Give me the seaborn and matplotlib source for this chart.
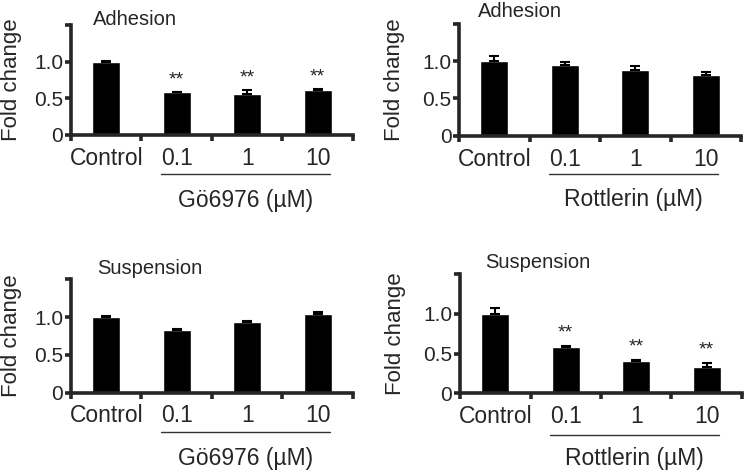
import matplotlib
matplotlib.use("Agg")
import matplotlib.pyplot as plt
import seaborn as sns
import pandas as pd
from matplotlib.transforms import offset_copy
from matplotlib.ticker import FixedLocator

sns.set_style("ticks")
plt.rcParams["font.family"] = ["Liberation Sans", "DejaVu Sans"]

groups = ["Control", "0.1", "1", "10"]

go_adh_mean = [1.0, 0.58, 0.56, 0.61]
go_adh_err = [0.01, 0.01, 0.06, 0.015]
go_adh_sig = ["", "**", "**", "**"]

rot_adh_mean = [1.0, 0.955, 0.885, 0.81]
rot_adh_err = [0.065, 0.035, 0.045, 0.04]
rot_adh_sig = ["", "", "", ""]

go_sus_mean = [1.0, 0.825, 0.935, 1.045]
go_sus_err = [0.01, 0.015, 0.01, 0.02]
go_sus_sig = ["", "", "", ""]

rot_sus_mean = [1.0, 0.58, 0.41, 0.335]
rot_sus_err = [0.07, 0.02, 0.01, 0.045]
rot_sus_sig = ["", "**", "**", "**"]

panels = [
    # rect, title, title pos, drug, means, errs, stars, ylabel x, (line offset, label offset, label va)
    ([0.095, 0.7146, 0.3775, 0.2326], "Adhesion", (0.078, 1.0), "Gö6976 (µM)",
     go_adh_mean, go_adh_err, go_adh_sig, -0.175, (28, 47, "center")),
    ([0.6145, 0.7131, 0.3775, 0.236], "Adhesion", (0.067, 1.06), "Rottlerin (µM)",
     rot_adh_mean, rot_adh_err, rot_adh_sig, -0.19, (27.5, 46, "center")),
    ([0.095, 0.1698, 0.3775, 0.2397], "Suspension", (0.092, 1.045), "Gö6976 (µM)",
     go_sus_mean, go_sus_err, go_sus_sig, -0.175, (28.5, 55.5, "bottom")),
    ([0.6158, 0.1685, 0.3775, 0.2516], "Suspension", (0.088, 1.055), "Rottlerin (µM)",
     rot_sus_mean, rot_sus_err, rot_sus_sig, -0.19, (30, 55.5, "bottom")),
]

fig = plt.figure(figsize=(7.47, 4.73), dpi=100)

for rect, title, tpos, drug, means, errs, sig, ylx, (line_off, lab_off, lab_va) in panels:
    ax = fig.add_axes(rect)
    df = pd.DataFrame({"group": groups, "fold": means})
    sns.barplot(data=df, x="group", y="fold", color="black", width=0.4,
                errorbar=None, ax=ax, saturation=1)
    # error bars only upward
    ax.errorbar(range(len(groups)), means, yerr=[[0] * len(errs), errs],
                fmt="none", ecolor="black", elinewidth=1.5, capsize=3.6,
                capthick=1.5)
    for i, s in enumerate(sig):
        if s:
            ax.text(i, means[i] + errs[i] + 0.16, s, ha="center", va="center",
                    fontsize=14)

    ax.set_xlim(-0.5, 3.5)
    ax.set_ylim(0, 1.5)
    ax.set_yticks([0, 0.5, 1.0, 1.5])
    ax.set_yticklabels(["0", "0.5", "1.0", ""])
    ax.xaxis.set_minor_locator(FixedLocator([-0.5, 0.5, 1.5, 2.5, 3.5]))
    ax.tick_params(axis="x", which="major", length=0, pad=8.5, labelsize=16.5)
    ax.tick_params(axis="x", which="minor", length=4, width=2.6, direction="out")
    ax.tick_params(axis="y", length=4, width=2.6, pad=1.5, labelsize=15)
    ax.set_xlabel("")
    ax.set_ylabel("Fold change", fontsize=16)
    ax.yaxis.set_label_coords(ylx, 0.5)
    for side in ["left", "bottom"]:
        ax.spines[side].set_linewidth(2.6)
    sns.despine(ax=ax)

    ax.text(tpos[0], tpos[1], title, transform=ax.transAxes, ha="left",
            va="baseline", fontsize=14.5)

    tr_line = offset_copy(ax.get_xaxis_transform(), fig=fig, y=-line_off, units="points")
    ax.plot([0.78, 3.17], [0, 0], transform=tr_line, color="#333333", lw=1,
            clip_on=False)
    tr_lab = offset_copy(ax.get_xaxis_transform(), fig=fig, y=-lab_off, units="points")
    ax.text(1.98, 0, drug, transform=tr_lab, ha="center", va=lab_va, fontsize=16.5)

fig.savefig("out.png", dpi=100)
